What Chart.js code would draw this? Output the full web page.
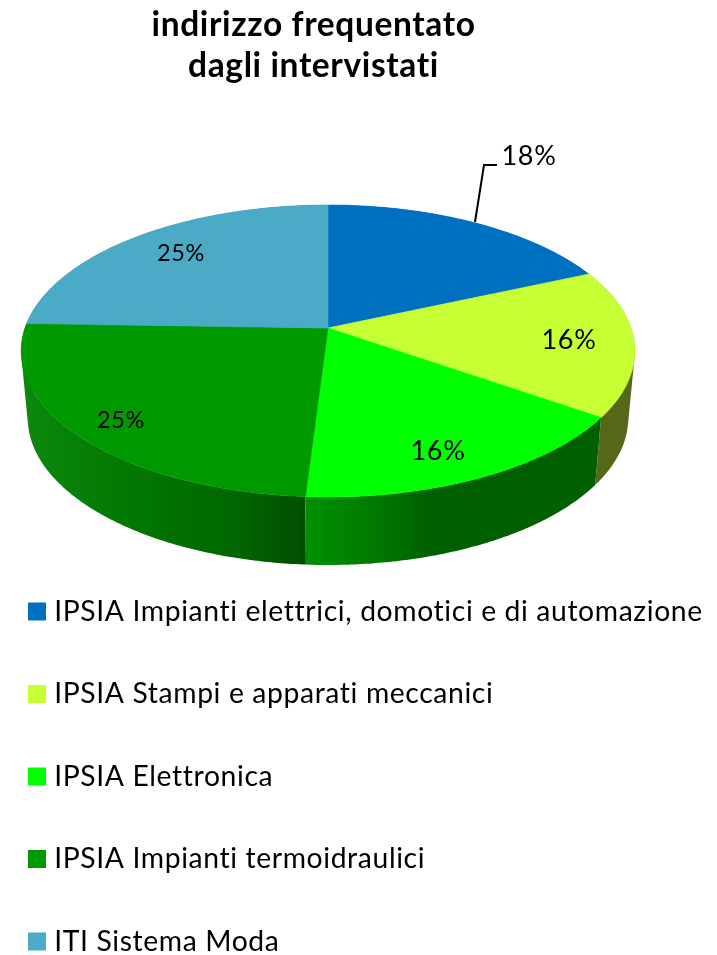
<!DOCTYPE html>
<html><head><meta charset="utf-8">
<style>html,body{margin:0;padding:0;background:#fff}canvas{display:block}</style>
<script src="https://cdn.jsdelivr.net/npm/chart.js@4"></script>
</head><body><canvas id="c" width="717" height="955"></canvas>
<script>
const titleLines = ['indirizzo frequentato', 'dagli intervistati'];
const categories = ['IPSIA Impianti elettrici, domotici e di automazione','IPSIA Stampi e apparati meccanici','IPSIA Elettronica','IPSIA Impianti termoidraulici','ITI Sistema Moda'];
const values = [18.4, 16.3, 16.3, 24.5, 24.5];
const colors = ['#0070C0','#C6FF33','#00FF00','#009900','#4BAAC6'];
const wallStops = [
  [[0,'#004a80'],[1,'#004a80']],
  [[0,'#55681A'],[1,'#55681A']],
  [[0,'#009000'],[0.25,'#007800'],[0.42,'#006000'],[1,'#006000']],
  [[0,'#0B870B'],[0.4,'#007600'],[0.75,'#006600'],[1,'#004E00']],
  [[0,'#2f7080'],[1,'#2f7080']]
];
const labelStyle = [
  {x:529,y:156,size:27},{x:569,y:340,size:27},{x:438,y:451,size:27},{x:121,y:420,size:23.5},{x:181,y:253,size:23.5}
];
const FONT = 'Lato, Carlito, "Open Sans", sans-serif';
const topFace = {a:-90.7,b:328,d:303}, baseFace = {a:-81.2,b:394.8,d:296.5};
const cx = 328, persp = 0.1575;
function project(angle, f){
  const t = angle + Math.PI/2, u = Math.sin(t), v = Math.cos(t), w = 1 + persp*v;
  return [cx + f.d*u/w, (f.a*v + f.b)/w];
}
function rim(ctx, a0, a1, f, move){
  const n = Math.max(2, Math.ceil(Math.abs(a1-a0)/0.01));
  for(let i=0;i<=n;i++){
    const p = project(a0+(a1-a0)*i/n, f);
    if(i===0 && move) ctx.moveTo(p[0],p[1]); else ctx.lineTo(p[0],p[1]);
  }
}
const ArcEl = Chart.registry.getElement('arc');
ArcEl.prototype.draw = function(ctx){
  const apex = [cx, topFace.b];
  ctx.save();
  ctx.fillStyle = this.options.backgroundColor;
  ctx.beginPath();
  ctx.moveTo(apex[0],apex[1]);
  rim(ctx,this.startAngle,this.endAngle,topFace,false);
  ctx.closePath();
  ctx.fill();
  ctx.strokeStyle = this.options.backgroundColor;
  ctx.lineWidth = 0.6;
  ctx.stroke();
  ctx.restore();
};
const scene = {
  id:'scene',
  beforeDraw(chart){ chart.ctx.letterSpacing = '0.62px'; },
  afterLayout(chart){
    const t = chart.titleBlock, l = chart.legend;
    t.left = 0; t.right = 627; t.top = 0;
    const pad = chart.options.plugins.legend.labels.padding;
    l.left = 34 - pad; l.right = 717; l.top = 597.35 - pad; l.bottom = 3000;
  },
  beforeDatasetsDraw(chart){
    const ctx = chart.ctx, arcs = chart.getDatasetMeta(0).data;
    const order = [0,4,1,3,2];
    order.forEach(i=>{
      const arc = arcs[i];
      const p0 = project(arc.startAngle,baseFace), p1 = project(arc.endAngle,baseFace);
      const x0 = Math.min(p0[0],p1[0]), x1 = Math.max(p0[0],p1[0]);
      const g = ctx.createLinearGradient(x0,0,x1,0);
      wallStops[i].forEach(s=>g.addColorStop(s[0],s[1]));
      ctx.save();
      ctx.fillStyle = g;
      const n = Math.ceil((arc.endAngle-arc.startAngle)/0.01);
      ctx.beginPath();
      for(let k=0;k<n;k++){
        const a = arc.startAngle+(arc.endAngle-arc.startAngle)*k/n;
        const b = arc.startAngle+(arc.endAngle-arc.startAngle)*(k+1)/n;
        const q = [project(a,topFace),project(b,topFace),project(b,baseFace),project(a,baseFace)];
        let area = 0;
        for(let m=0;m<4;m++){ const r=q[m], s=q[(m+1)%4]; area += r[0]*s[1]-s[0]*r[1]; }
        if(area<0) q.reverse();
        ctx.moveTo(q[0][0],q[0][1]);
        for(let m=1;m<4;m++) ctx.lineTo(q[m][0],q[m][1]);
        ctx.closePath();
      }
      ctx.fill('nonzero');
      ctx.restore();
    });
  },
  afterDatasetsDraw(chart){
    const ctx = chart.ctx;
    ctx.save();
    ctx.strokeStyle = '#000'; ctx.lineWidth = 2;
    ctx.beginPath(); ctx.moveTo(475,222); ctx.lineTo(484,165); ctx.lineTo(497,165); ctx.stroke();
    ctx.fillStyle = '#000'; ctx.textAlign='center'; ctx.textBaseline='middle';
    values.forEach((v,i)=>{
      const s = labelStyle[i];
      ctx.font = s.size+'px '+FONT;
      ctx.fillText(Math.round(v)+'%', s.x, s.y);
    });
    ctx.restore();
  }
};
const canvas = document.getElementById('c');
new Chart(canvas,{
  type:'pie',
  data:{labels:categories,datasets:[{data:values,backgroundColor:colors,borderColor:colors,borderWidth:12}]},
  plugins:[scene],
  options:{
    responsive:false,animation:false,
    plugins:{
      tooltip:{enabled:false},
      title:{display:true,text:titleLines,color:'#000',padding:{top:5,bottom:0},font:{family:FONT,size:33.5,weight:'bold',lineHeight:1.224}},
      legend:{position:'chartArea',align:'start',labels:{boxWidth:6,boxHeight:6,padding:54.2,color:'#000',font:{family:FONT,size:28.3,lineHeight:1}}}
    }
  }
});
</script></body></html>
